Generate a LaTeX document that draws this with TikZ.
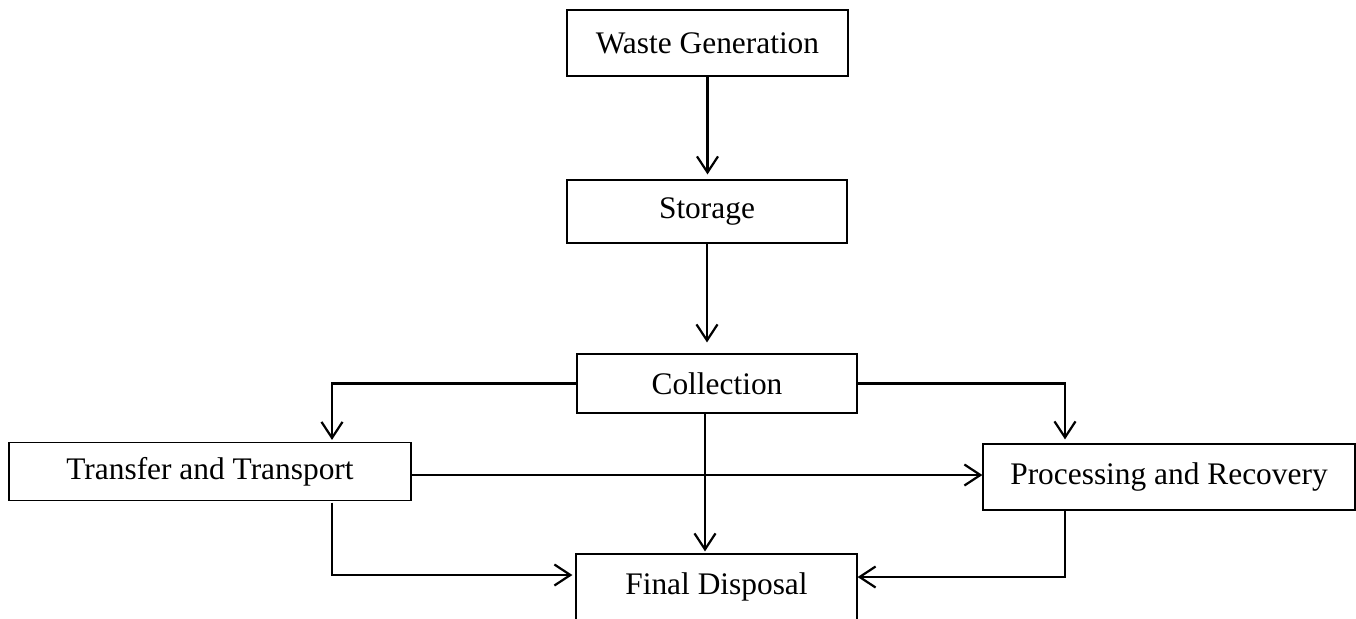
\documentclass[tikz,border=0pt]{standalone}
\usepackage{fontspec}
\setmainfont{Liberation Serif}
\usepackage{tikz}
\usetikzlibrary{arrows.meta,positioning,calc}

\begin{document}
\begin{tikzpicture}[x=0.5pt,y=-0.5pt,
  every node/.style={font=\fontsize{15.7}{18}\selectfont},
  box/.style={draw,line width=0.6pt,inner sep=0pt,minimum height=#1},
  box/.default=33pt,
  flow/.style={line width=1.1pt,-{Straight Barb[length=8pt,width=10.5pt,line width=1.1pt]}}]
  \useasboundingbox (0,0) rectangle (1356,618);
  % boxes
  \node[box=33pt,minimum width=140.5pt] (gen) at (707.5,43) {Waste Generation};
  \node[box=31.5pt,minimum width=140pt] (stor) at (707,211.5) {Storage};
  \node[box=29.5pt,minimum width=140pt] (coll) at (717,383.5) {Collection};
  \node[box=29pt,minimum width=201pt] (trans) at (210,471.5) {Transfer and Transport};
  \node[box=33pt,minimum width=186pt] (proc) at (1169,477) {Processing and Recovery};
  \node[box=33pt,minimum width=140.5pt] (disp) at (716.5,587) {Final Disposal};
  % arrows
  \draw[flow,shorten >=2.5pt] (gen.south) -- (gen.south |- stor.north);
  \draw[flow,shorten >=5.5pt] (stor.south) -- (stor.south |- coll.north);
  \draw[flow,shorten >=1pt] (coll.west) -| ($(trans.north)+(122,0)$);
  \draw[flow,shorten >=2pt] (coll.east) -| ($(proc.north)+(-104,0)$);
  \draw[flow,shorten >=1pt] ($(coll.south)+(-12,0)$) -- ($(disp.north)+(-11.5,0)$);
  \draw[flow] (trans.east |- 0,475) -- (proc.west |- 0,475);
  \draw[flow,shorten >=1.5pt] ($(trans.south)+(122,1.5)$) |- ($(disp.west)+(0,-12)$);
  \draw[flow] ($(proc.south)+(-104,0)$) |- ($(disp.east)+(0,-10)$);
\end{tikzpicture}
\end{document}
